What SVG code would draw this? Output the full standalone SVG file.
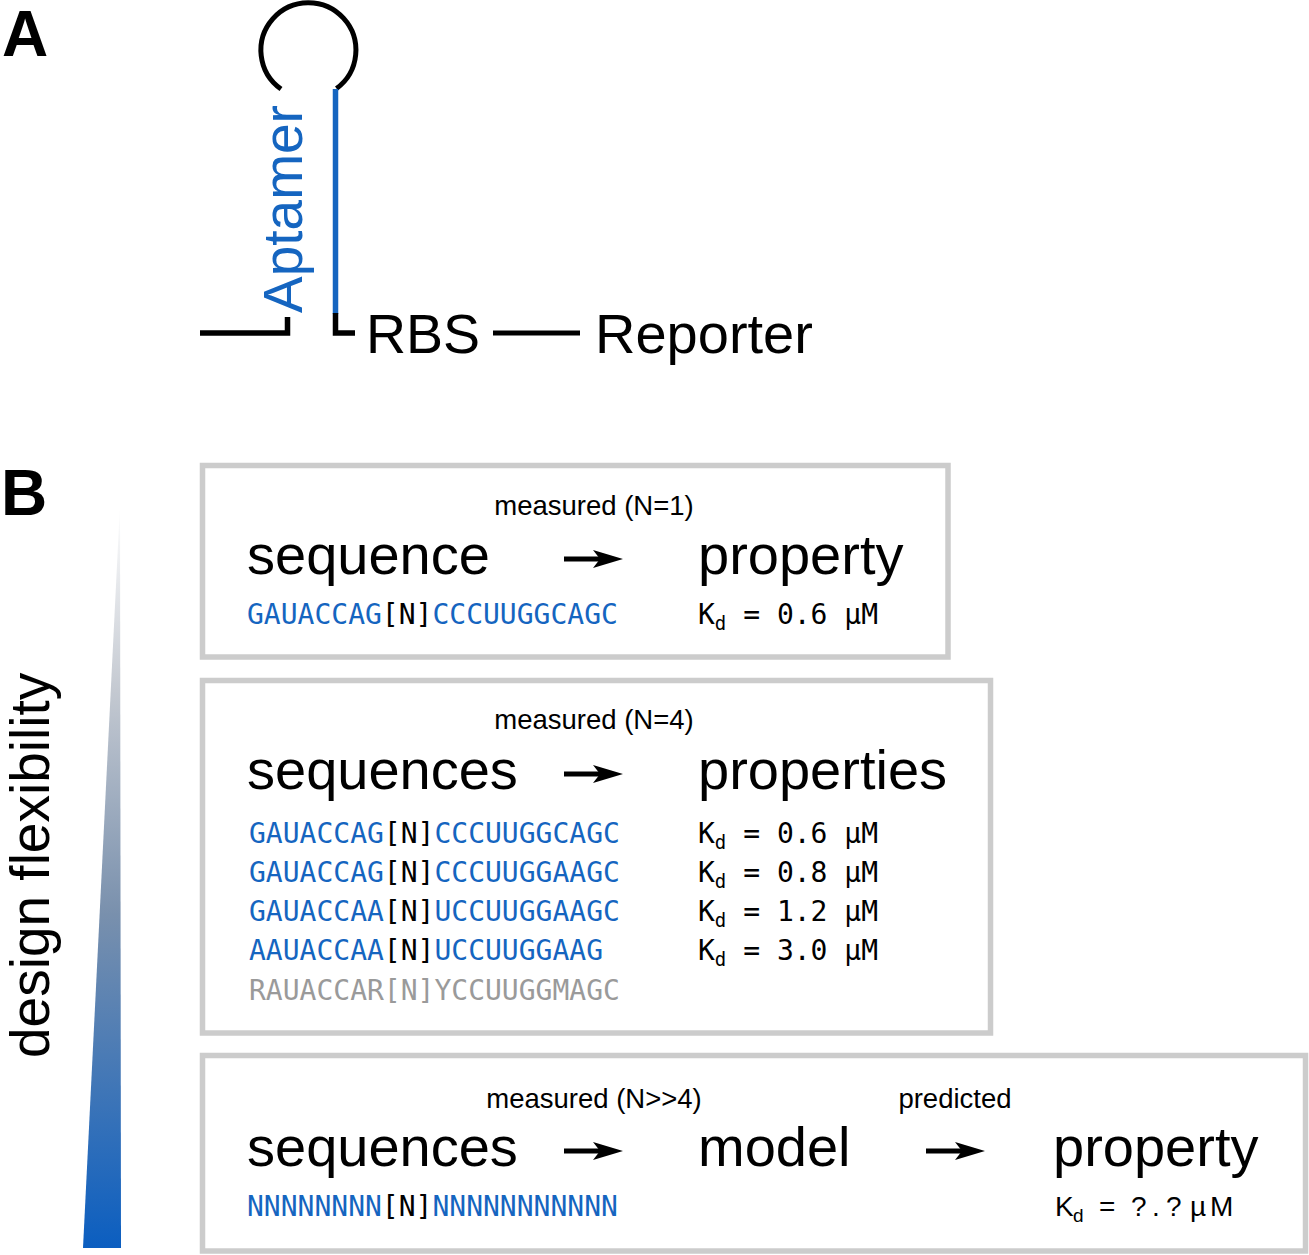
<svg xmlns="http://www.w3.org/2000/svg" width="1309" height="1255" viewBox="0 0 1309 1255">
<style>
.sans{font-family:"Liberation Sans",Arial,sans-serif;}
.lbl{font-family:"Liberation Sans",Arial,sans-serif;font-weight:bold;font-size:64px;fill:#000;}
.big{font-family:"Liberation Sans",Arial,sans-serif;font-size:56px;fill:#000;}
.small{font-family:"Liberation Sans",Arial,sans-serif;font-size:27.5px;fill:#000;text-anchor:middle;}
.mono{font-family:"DejaVu Sans Mono","Liberation Mono",monospace;font-size:28px;}
.blue{fill:#1565c0;}
.blk{fill:#000;}
.gray{fill:#9a9a9a;}
.box{fill:#fff;stroke:#cccccc;stroke-width:5.5;}
.sub{font-size:19px;}
</style>
<defs>
<linearGradient id="grad" x1="0" y1="505" x2="0" y2="1248" gradientUnits="userSpaceOnUse">
<stop offset="0" stop-color="#ffffff"/>
<stop offset="0.25" stop-color="#c4c9d1"/>
<stop offset="0.55" stop-color="#7990ad"/>
<stop offset="1" stop-color="#0b5ec0"/>
</linearGradient>
<g id="arrow">
<path d="M0,0 H42" stroke="#000" stroke-width="5" fill="none"/>
<path d="M59,0 L29,-9 L36,0 L29,9 Z" fill="#000"/>
</g>
</defs>
<rect width="1309" height="1255" fill="#fff"/>

<g id="panelA">
<text class="lbl" x="2" y="56">A</text>
<g id="hairpin" fill="none" stroke-width="5">
<path d="M281,89 A47.5,47.5 0 1 1 336.5,88.5" stroke="#000"/>
<path d="M335.5,89 V314" stroke="#1565c0" stroke-width="5.5"/>
<path d="M335.5,313 V333 H355" stroke="#000" stroke-width="5.5"/>
<path d="M200,333 H287.5 V317" stroke="#000" stroke-width="5.5"/>
</g>
<text class="big" transform="translate(302,313) rotate(-90)" style="fill:#1565c0;font-size:55px">Aptamer</text>
<g id="rbs"><text class="big" x="366" y="353" style="font-size:55.5px">RBS</text></g>
<path d="M493,333 H580" stroke="#000" stroke-width="5"/>
<g id="reporter"><text class="big" x="595" y="353" style="font-size:56px">Reporter</text></g>
</g>

<g id="panelB">
<text class="lbl" x="1" y="515">B</text>
<polygon points="120,505 121,1248 83,1248" fill="url(#grad)"/>
<text class="big" transform="translate(49,1058) rotate(-90)" style="font-size:55px">design flexibility</text>

<g id="box1">
<rect class="box" x="202.5" y="465.5" width="745.5" height="191.5"/>
<text class="small" x="594" y="515">measured (N=1)</text>
<text class="big" x="247" y="574">sequence</text>
<text class="big" x="698" y="574">property</text>
<text class="mono" x="247" y="624"><tspan class="blue">GAUACCAG</tspan><tspan class="blk">[N]</tspan><tspan class="blue">CCCUUGGCAGC</tspan></text>
<text class="mono blk" x="698" y="624">K<tspan class="sub" dy="6">d</tspan><tspan dy="-6"> = 0.6 µM</tspan></text>
</g>

<g id="box2">
<rect class="box" x="202.5" y="680.5" width="788" height="352.5"/>
<text class="small" x="594" y="729">measured (N=4)</text>
<text class="big" x="247" y="789">sequences</text>
<text class="big" x="698" y="789">properties</text>
<text class="mono" x="249" y="843"><tspan class="blue">GAUACCAG</tspan><tspan class="blk">[N]</tspan><tspan class="blue">CCCUUGGCAGC</tspan></text>
<text class="mono" x="249" y="882"><tspan class="blue">GAUACCAG</tspan><tspan class="blk">[N]</tspan><tspan class="blue">CCCUUGGAAGC</tspan></text>
<text class="mono" x="249" y="921"><tspan class="blue">GAUACCAA</tspan><tspan class="blk">[N]</tspan><tspan class="blue">UCCUUGGAAGC</tspan></text>
<text class="mono" x="249" y="960"><tspan class="blue">AAUACCAA</tspan><tspan class="blk">[N]</tspan><tspan class="blue">UCCUUGGAAG</tspan></text>
<text class="mono gray" x="249" y="1000">RAUACCAR[N]YCCUUGGMAGC</text>
<text class="mono blk" x="698" y="843">K<tspan class="sub" dy="6">d</tspan><tspan dy="-6"> = 0.6 µM</tspan></text>
<text class="mono blk" x="698" y="882">K<tspan class="sub" dy="6">d</tspan><tspan dy="-6"> = 0.8 µM</tspan></text>
<text class="mono blk" x="698" y="921">K<tspan class="sub" dy="6">d</tspan><tspan dy="-6"> = 1.2 µM</tspan></text>
<text class="mono blk" x="698" y="960">K<tspan class="sub" dy="6">d</tspan><tspan dy="-6"> = 3.0 µM</tspan></text>
</g>

<g id="box3">
<rect class="box" x="202.5" y="1055.5" width="1103" height="195.5"/>
<text class="small" x="594" y="1108">measured (N&gt;&gt;4)</text>
<text class="small" x="955" y="1108">predicted</text>
<text class="big" x="247" y="1166">sequences</text>
<text class="big" x="698" y="1166">model</text>
<text class="big" x="1053" y="1166">property</text>
<text class="mono" x="247" y="1216"><tspan class="blue">NNNNNNNN</tspan><tspan class="blk">[N]</tspan><tspan class="blue">NNNNNNNNNNN</tspan></text>
<text class="sans" style="font-size:28px" y="1216"><tspan x="1055">K</tspan><tspan x="1073" dy="6" style="font-size:19px">d</tspan><tspan x="1099 1131 1152 1166 1190 1210" dy="-6">=?.?µM</tspan></text>
</g>
</g>

<g id="connectors">
<use href="#arrow" transform="translate(564,559)"/>
<use href="#arrow" transform="translate(564,774)"/>
<use href="#arrow" transform="translate(564,1151)"/>
<use href="#arrow" transform="translate(926,1151)"/>
</g>
</svg>
